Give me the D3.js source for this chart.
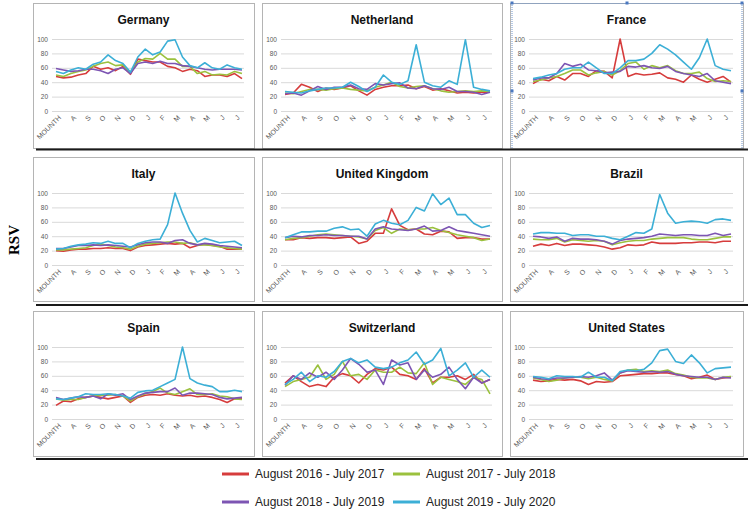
<!DOCTYPE html>
<html>
<head>
<meta charset="utf-8">
<script src="https://cdn.jsdelivr.net/npm/d3@7"></script>
<style>
body { margin: 0; background: #fff; }
text { font-family: "Liberation Sans", Arial, sans-serif; }
</style>
</head>
<body>
<script>
var countries = ["Germany", "Netherland", "France", "Italy", "United Kingdom", "Brazil", "Spain", "Switzerland", "United States"];
var seasons = ["August 2016 - July 2017", "August 2017 - July 2018", "August 2018 - July 2019", "August 2019 - July 2020"];
var monthLabels = ["MOUNTH", "A", "S", "O", "N", "D", "J", "F", "M", "A", "M", "J", "J"];
var yTicks = [0, 20, 40, 60, 80, 100];

// one value every two weeks, rows = seasons in legend order
var germany = [
	[48,46,47,50,52,62,58,60,56,62,51,72,70,68,68,62,60,55,58,56,48,50,50,48,52,45],
	[50,48,52,55,57,62,66,68,63,64,53,68,73,72,80,72,72,62,62,52,55,50,51,50,55,52],
	[59,57,55,56,58,58,56,52,58,60,52,66,68,66,69,66,66,63,62,60,58,57,58,58,58,57],
	[55,52,57,60,58,65,68,78,70,66,54,75,86,78,82,97,99,75,63,60,67,60,58,64,60,58]
];
var netherland = [
	[23,25,37,33,27,32,30,32,35,28,22,30,33,35,35,36,31,34,29,31,28,25,26,25,26,26],
	[25,24,27,30,30,29,31,32,30,29,28,33,36,40,34,32,34,35,31,28,26,27,28,27,28,27],
	[24,25,22,28,34,30,33,33,36,31,30,38,36,38,39,32,31,35,31,30,33,27,27,26,23,26],
	[27,26,25,28,30,32,32,33,40,34,27,33,50,40,37,42,92,40,35,33,42,37,99,33,30,28]
];
var france = [
	[38,44,42,48,43,52,52,48,56,55,46,100,48,52,50,51,53,46,44,40,50,44,40,44,48,40],
	[41,43,46,48,52,57,57,50,53,55,50,56,66,68,58,63,60,63,56,52,52,54,45,41,42,41],
	[43,46,46,52,66,62,65,57,56,53,54,55,62,61,63,60,59,62,55,52,50,48,52,42,40,38],
	[45,47,50,52,58,60,60,68,60,52,52,60,70,70,72,80,92,86,78,68,58,74,100,63,58,56]
];
var italy = [
	[20,19,21,22,22,23,23,24,23,23,20,25,27,28,29,30,29,30,24,27,29,27,26,22,22,22],
	[21,21,22,23,24,27,29,27,25,24,22,26,29,30,31,32,32,30,31,28,28,27,25,24,23,22],
	[23,23,25,27,27,28,27,28,27,26,25,28,31,32,32,30,34,35,30,28,30,29,27,26,25,24],
	[22,23,26,28,29,31,30,33,30,30,24,30,33,35,36,56,100,72,48,32,37,34,31,32,33,27]
];
var unitedKingdom = [
	[35,35,38,37,38,38,37,38,39,30,33,44,44,78,55,49,50,43,42,47,46,37,38,38,36,36],
	[35,37,38,40,42,43,42,41,40,39,36,48,52,44,50,49,50,50,52,48,45,42,40,38,34,36],
	[38,40,39,41,41,42,41,41,40,40,36,50,53,50,49,48,50,54,47,48,53,48,46,44,42,40],
	[38,42,46,46,47,47,51,53,49,50,40,57,62,58,56,62,80,75,99,84,93,70,70,58,52,55]
];
var brazil = [
	[26,29,27,30,27,29,29,28,27,25,22,24,28,27,28,32,30,30,30,31,31,32,32,31,33,33],
	[36,35,35,37,32,35,34,33,34,33,28,31,33,34,34,36,37,38,38,38,36,35,35,37,39,39],
	[40,39,37,39,33,37,36,36,35,33,29,34,36,37,38,40,43,42,41,42,42,41,41,44,41,43],
	[43,45,45,44,44,41,42,42,40,40,37,35,40,45,44,50,98,72,58,60,61,60,58,63,64,62]
];
var spain = [
	[19,25,24,28,30,32,30,28,30,32,23,30,33,34,33,35,33,32,33,31,32,30,27,23,28,29],
	[28,26,27,27,30,32,33,33,34,32,25,31,35,38,43,36,34,38,42,34,34,35,32,31,28,27],
	[30,27,29,31,30,32,28,35,33,35,27,32,36,37,38,38,43,33,36,36,35,34,30,28,29,30],
	[28,27,29,31,35,34,34,35,34,32,29,37,39,40,45,50,55,100,56,50,47,45,38,38,40,38]
];
var switzerland = [
	[50,60,52,45,48,45,58,63,60,50,62,70,68,72,62,60,55,70,50,58,58,60,55,62,50,55],
	[45,52,55,58,75,55,62,80,60,62,55,68,65,65,72,64,63,78,48,58,55,52,48,58,55,35],
	[47,60,55,64,58,65,55,68,84,76,65,68,48,82,75,78,55,68,58,62,72,55,42,58,50,55],
	[48,55,65,52,60,58,66,80,84,78,82,72,70,72,78,82,93,76,82,98,60,68,78,58,68,58]
];
var unitedStates = [
	[54,52,53,55,54,55,53,48,52,51,52,60,61,62,63,63,64,64,62,60,56,58,61,55,57,58],
	[57,55,52,54,57,58,58,56,58,55,53,64,68,69,66,67,66,68,63,61,58,57,57,55,58,59],
	[58,56,55,57,57,58,59,58,60,64,54,64,67,66,65,66,65,66,62,60,59,58,58,55,58,57],
	[59,58,56,60,59,59,58,65,58,58,53,66,68,67,69,78,95,97,80,77,89,78,64,70,71,72]
];

var rsvData = [germany, netherland, france, italy, unitedKingdom, brazil, spain, switzerland, unitedStates];
var colors = ["#d63c3c", "#9bc13e", "#7d55b3", "#3cafd6"];

var width = 748, height = 509;
var cols = [{x: 33, w: 221}, {x: 262, w: 240}, {x: 510, w: 233}];
var rows = [{y: 3, h: 145}, {y: 157, h: 144}, {y: 311, h: 145}];

var svg = d3.select("body").append("svg")
	.attr("width", width)
	.attr("height", height);

// RSV label
svg.append("text")
	.attr("transform", "translate(19, 240) rotate(-90)")
	.attr("text-anchor", "middle")
	.style("font-family", "'Liberation Serif', 'Times New Roman', serif")
	.style("font-weight", "bold")
	.style("font-size", "15px")
	.text("RSV");

countries.forEach(function(name, k) {
	var c = cols[k % 3], r = rows[Math.floor(k / 3)];
	var g = svg.append("g");

	g.append("rect")
		.attr("x", c.x + 0.5).attr("y", r.y + 0.5)
		.attr("width", c.w).attr("height", r.h)
		.attr("fill", "#fff")
		.attr("stroke", "#b4b4b4");

	g.append("text")
		.attr("x", c.x + c.w / 2)
		.attr("y", r.y + 21)
		.attr("text-anchor", "middle")
		.style("font-weight", "bold")
		.style("font-size", "12px")
		.attr("fill", "#111")
		.text(name);

	var left = c.x + 19, right = c.x + c.w - 10;
	var xScale = d3.scaleLinear().domain([0, 25]).range([left + 4, right - 2]);
	var yScale = d3.scaleLinear().domain([0, 100]).range([r.y + 108, r.y + 36]);

	var yAxis = g.append("g")
		.attr("transform", `translate(${left}, 0)`)
		.call(d3.axisLeft(yScale).tickValues(yTicks).tickSize(-(right - left)).tickPadding(4));
	yAxis.select(".domain").remove();
	yAxis.selectAll("line").attr("stroke", "#d9d9d9");
	yAxis.selectAll("text")
		.attr("fill", "#595959")
		.style("font-size", "6.5px")
		.style("font-family", "'Liberation Sans', Arial, sans-serif");

	var xAxis = g.append("g")
		.attr("transform", `translate(0, ${r.y + 110})`)
		.call(d3.axisBottom(xScale)
			.tickValues(d3.range(0, 25, 2))
			.tickFormat(function(d, i) { return monthLabels[i]; })
			.tickSize(0));
	xAxis.select(".domain").remove();
	xAxis.selectAll("text")
		.attr("fill", "#595959")
		.style("font-size", "7px")
		.style("font-family", "'Liberation Sans', Arial, sans-serif")
		.attr("text-anchor", "end")
		.attr("dx", "0")
		.attr("dy", "0.6em")
		.attr("transform", "rotate(-45)");

	var line = d3.line()
		.x(function(d, i) { return xScale(i); })
		.y(function(d) { return yScale(d); });

	g.selectAll(".series")
		.data(rsvData[k])
		.enter()
		.append("path")
		.attr("class", "series")
		.attr("d", line)
		.attr("fill", "none")
		.attr("stroke", function(d, i) { return colors[i]; })
		.attr("stroke-width", 1.6)
		.attr("stroke-linejoin", "round");
});

// selection frame around France
var sel = svg.append("g");
sel.append("path")
	.attr("d", "M512,148 V3.5 H742 V148")
	.attr("fill", "none")
	.attr("stroke", "#6d93c9")
	.attr("stroke-dasharray", "1,1");
[[512, 3], [627, 3], [742, 3], [512, 91], [742, 91]].forEach(function(p) {
	sel.append("rect")
		.attr("x", p[0] - 1.5).attr("y", p[1] - 1.5)
		.attr("width", 3).attr("height", 3)
		.attr("fill", "#4a78c0");
});

// dark row separators
[149.5, 305, 459].forEach(function(yy) {
	svg.append("line")
		.attr("x1", 36).attr("x2", width)
		.attr("y1", yy).attr("y2", yy)
		.attr("stroke", "#1a1a1a")
		.attr("stroke-width", 2);
});

// legend
var legend = svg.append("g");
var legendPos = [[222, 474], [393, 474], [222, 502], [393, 502]];
seasons.forEach(function(s, i) {
	var p = legendPos[i];
	legend.append("line")
		.attr("x1", p[0]).attr("x2", p[0] + 27)
		.attr("y1", p[1]).attr("y2", p[1])
		.attr("stroke", colors[i])
		.attr("stroke-width", 3);
	legend.append("text")
		.attr("x", p[0] + 33)
		.attr("y", p[1] + 4)
		.style("font-size", "12px")
		.attr("fill", "#222")
		.text(s);
});
</script>
</body>
</html>
